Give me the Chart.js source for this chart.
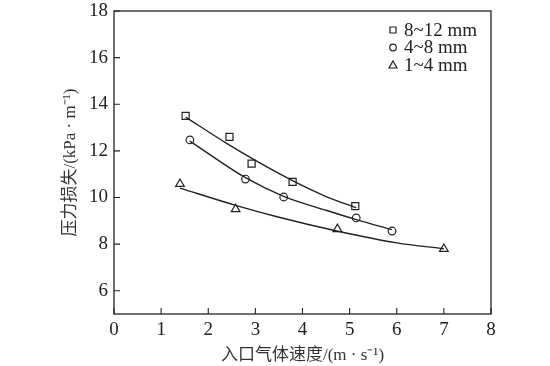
<!DOCTYPE html>
<html lang="zh">
<head>
<meta charset="UTF-8" />
<title>压力损失</title>
<script src="https://cdn.jsdelivr.net/npm/chart.js"></script>
<style>
    body { margin: 0; background: #fff; }
    #wrap { width: 550px; height: 366px; }
</style>
</head>
<body>
<div id="wrap"><canvas id="lossChart" width="550" height="366"></canvas></div>
<script>
    // 测量点
    const velSquare = [1.52, 2.45, 2.92, 3.79, 5.12];
    const lossSquare = [13.5, 12.6, 11.45, 10.67, 9.63];
    const velCircle = [1.61, 2.79, 3.6, 5.14, 5.9];
    const lossCircle = [12.47, 10.79, 10.02, 9.12, 8.56];
    const velTri = [1.4, 2.58, 4.74, 7.0];
    const lossTri = [10.58, 9.5, 8.64, 7.79];

    // 拟合曲线
    const fitVelSquare = [1.52, 2.4, 3.0, 3.8, 4.5, 5.14];
    const fitLossSquare = [13.45, 12.31, 11.59, 10.71, 10.04, 9.56];
    const fitVelCircle = [1.61, 2.79, 3.6, 4.5, 5.14, 5.9];
    const fitLossCircle = [12.42, 10.85, 10.05, 9.45, 9.05, 8.62];
    const fitVelTri = [1.4, 2.6, 3.5, 4.75, 6.0, 7.0];
    const fitLossTri = [10.4, 9.65, 9.15, 8.55, 8.05, 7.8];

    const seriesLabels = ['8~12 mm', '4~8 mm', '1~4 mm'];
    const xTicks = [0, 1, 2, 3, 4, 5, 6, 7, 8];
    const yTicks = [6, 8, 10, 12, 14, 16, 18];

    const ink = '#222';
    const serif = "'Liberation Serif', 'Noto Sans CJK SC', serif";

    function pts(xs, ys) {
        return xs.map((x, i) => ({ x: x, y: ys[i] }));
    }

    function markerSet(label, xs, ys, style, r) {
        return {
            label: label,
            data: pts(xs, ys),
            showLine: false,
            pointStyle: style,
            pointRadius: r,
            pointBorderWidth: 1.2,
            pointBorderColor: ink,
            pointBackgroundColor: 'rgba(0,0,0,0)',
            isMarker: true
        };
    }

    function fitSet(xs, ys) {
        return {
            label: '',
            data: pts(xs, ys),
            showLine: true,
            borderColor: ink,
            borderWidth: 1.4,
            pointRadius: 0,
            cubicInterpolationMode: 'monotone'
        };
    }

    // 内向刻度 + 边框
    const frameTicks = {
        id: 'frameTicks',
        afterDatasetsDraw(chart) {
            const ctx = chart.ctx;
            const a = chart.chartArea;
            const xs = chart.scales.x, ys = chart.scales.y;
            ctx.save();
            ctx.strokeStyle = ink;
            ctx.lineWidth = 1.3;
            ctx.strokeRect(a.left, a.top, a.right - a.left, a.bottom - a.top);
            ctx.lineWidth = 1.1;
            ctx.beginPath();
            xTicks.forEach(v => {
                const px = xs.getPixelForValue(v);
                ctx.moveTo(px, a.bottom);
                ctx.lineTo(px, a.bottom - 6);
            });
            yTicks.forEach(v => {
                const py = ys.getPixelForValue(v);
                ctx.moveTo(a.left, py);
                ctx.lineTo(a.left + 6, py);
            });
            ctx.stroke();
            ctx.restore();
        }
    };

    // 图例（图内右上角）
    const innerLegend = {
        id: 'innerLegend',
        afterDraw(chart) {
            const ctx = chart.ctx;
            const a = chart.chartArea;
            const x0 = a.right - 98;
            let y = a.top + 19;
            ctx.save();
            ctx.font = '19px ' + serif;
            ctx.fillStyle = ink;
            ctx.strokeStyle = ink;
            ctx.lineWidth = 1.2;
            ctx.textBaseline = 'middle';
            chart.data.datasets.filter(d => d.isMarker).forEach(d => {
                ctx.beginPath();
                if (d.pointStyle === 'rect') {
                    ctx.rect(x0 - 3, y - 3, 6, 6);
                } else if (d.pointStyle === 'circle') {
                    ctx.arc(x0, y, 3.3, 0, Math.PI * 2);
                } else {
                    ctx.moveTo(x0, y - 4);
                    ctx.lineTo(x0 + 4, y + 3);
                    ctx.lineTo(x0 - 4, y + 3);
                    ctx.closePath();
                }
                ctx.stroke();
                ctx.fillText(d.label, x0 + 11, y + 1);
                y += 17.5;
            });
            ctx.restore();
        }
    };

    const ctx = document.getElementById('lossChart').getContext('2d');
    new Chart(ctx, {
        type: 'scatter',
        data: {
            datasets: [
                markerSet(seriesLabels[0], velSquare, lossSquare, 'rect', 5),
                markerSet(seriesLabels[1], velCircle, lossCircle, 'circle', 3.8),
                markerSet(seriesLabels[2], velTri, lossTri, 'triangle', 5),
                fitSet(fitVelSquare, fitLossSquare),
                fitSet(fitVelCircle, fitLossCircle),
                fitSet(fitVelTri, fitLossTri)
            ]
        },
        options: {
            responsive: false,
            animation: false,
            layout: { padding: { left: 60, right: 59, top: 11, bottom: 0 } },
            plugins: {
                legend: { display: false },
                tooltip: { enabled: false }
            },
            scales: {
                x: {
                    type: 'linear',
                    min: 0,
                    max: 8,
                    afterBuildTicks: s => { s.ticks = xTicks.map(v => ({ value: v })); },
                    afterFit: s => { s.height = 52; s.paddingLeft = 0; s.paddingRight = 0; },
                    grid: { display: false, drawTicks: false },
                    border: { display: false },
                    ticks: {
                        padding: 5,
                        color: ink,
                        maxRotation: 0,
                        font: { family: serif, size: 19 }
                    },
                    title: {
                        display: true,
                        text: '入口气体速度/(m · s⁻¹)',
                        color: '#333',
                        padding: { top: 0, bottom: 0 },
                        font: { family: serif, size: 17 }
                    }
                },
                y: {
                    type: 'linear',
                    min: 5,
                    max: 18,
                    afterBuildTicks: s => { s.ticks = yTicks.map(v => ({ value: v })); },
                    afterFit: s => { s.width = 54; s.paddingTop = 0; s.paddingBottom = 0; },
                    grid: { display: false, drawTicks: false },
                    border: { display: false },
                    ticks: {
                        padding: 6,
                        color: ink,
                        font: { family: serif, size: 19 }
                    },
                    title: {
                        display: true,
                        text: '压力损失/(kPa · m⁻¹)',
                        color: '#333',
                        padding: 0,
                        font: { family: serif, size: 17 }
                    }
                }
            }
        },
        plugins: [frameTicks, innerLegend]
    });
</script>
</body>
</html>
